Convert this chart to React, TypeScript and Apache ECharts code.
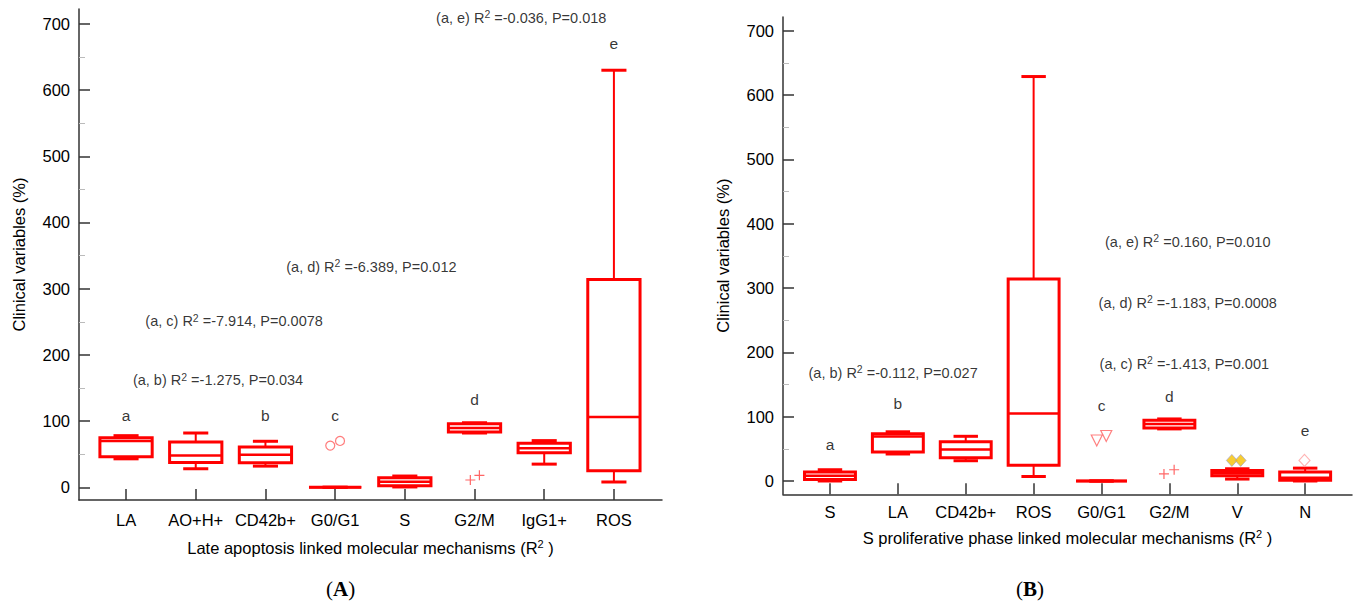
import React, { useEffect, useRef } from "react";
import * as echarts from "echarts";

// ---------- Data ----------
const leftCategories = ["LA", "AO+H+", "CD42b+", "G0/G1", "S", "G2/M", "IgG1+", "ROS"];
// [min, Q1, median, Q3, max]
const leftBoxes = [
  [43, 46, 70, 75, 78],
  [28, 37.5, 48, 68.5, 82],
  [32, 37, 49, 61, 69.5],
  [0, 0, 0, 0, 0],
  [0.5, 2.5, 8.5, 14.5, 17],
  [82, 83.5, 89.5, 96, 97.5],
  [35, 52, 59, 66.5, 70.5],
  [8, 25, 106, 314, 630],
];
const leftCircleOutliers = [[2.93, 63], [3.07, 70]];
const leftPlusOutliers = [[4.94, 11], [5.07, 18]];
const leftLetters = [[0, 109, "a"], [2, 109, "b"], [3, 109, "c"], [5, 132, "d"], [7, 670, "e"]];
const leftStats = [
  [1.32, 162, "(a, b)", "-1.275", "0.034"],
  [1.55, 251, "(a, c)", "-7.914", "0.0078"],
  [3.52, 333, "(a, d)", "-6.389", "0.012"],
  [5.67, 709, "(a, e)", "-0.036", "0.018"],
];

const rightCategories = ["S", "LA", "CD42b+", "ROS", "G0/G1", "G2/M", "V", "N"];
const rightBoxes = [
  [0, 2.5, 8, 14, 17.5],
  [42, 45, 69, 73.5, 76.5],
  [31.5, 36, 49, 61, 69.5],
  [7, 24.5, 105, 314, 629],
  [0, 0, 0, 0, 0],
  [81, 82.5, 88.5, 94.5, 96.5],
  [3, 8, 12, 16.5, 19],
  [0, 1, 5, 14, 20],
];
const rightTriangleOutliers = [[3.93, 63], [4.07, 70]];
const rightPlusOutliers = [[4.92, 11], [5.07, 17.5]];
const rightGoldOutliers = [[5.92, 32], [6.05, 32]];
const rightDiamondOutliers = [[6.99, 32]];
const rightLetters = [[0, 57.5, "a"], [1, 121, "b"], [4, 117, "c"], [5, 131, "d"], [7, 78, "e"]];
const rightStats = [
  [0.93, 168, "(a, b)", "-0.112", "0.027"],
  [5.27, 372, "(a, e)", "0.160", "0.010"],
  [5.27, 277, "(a, d)", "-1.183", "0.0008"],
  [5.22, 182, "(a, c)", "-1.413", "0.001"],
];

const yTicks = [0, 100, 200, 300, 400, 500, 600, 700];
const yMinorTicks = [50, 150, 250, 350, 450, 550, 650];
const xTicks = [0, 1, 2, 3, 4, 5, 6, 7];

const FONT = "'Liberation Sans', Arial, sans-serif";
const RED = "#ff0000";

function renderBox(params: any, api: any) {
  const x = api.value(0);
  const lo = api.value(1);
  const q1 = api.value(2);
  const med = api.value(3);
  const q3 = api.value(4);
  const hi = api.value(5);
  const bw = api.size([1, 0])[0];
  const half = bw * 0.375;
  const capHalf = bw * 0.18;
  const pLo = api.coord([x, lo]);
  const pQ1 = api.coord([x, q1]);
  const pMed = api.coord([x, med]);
  const pQ3 = api.coord([x, q3]);
  const pHi = api.coord([x, hi]);
  const cx = pMed[0];
  const children: any[] = [];
  children.push({
    type: "line",
    shape: { x1: cx, y1: pQ3[1], x2: cx, y2: pHi[1] },
    style: { stroke: RED, lineWidth: 2 },
  });
  children.push({
    type: "line",
    shape: { x1: cx, y1: pQ1[1], x2: cx, y2: pLo[1] },
    style: { stroke: RED, lineWidth: 2 },
  });
  children.push({
    type: "line",
    shape: { x1: cx - capHalf, y1: pHi[1], x2: cx + capHalf, y2: pHi[1] },
    style: { stroke: RED, lineWidth: 3 },
  });
  children.push({
    type: "line",
    shape: { x1: cx - capHalf, y1: pLo[1], x2: cx + capHalf, y2: pLo[1] },
    style: { stroke: RED, lineWidth: 3 },
  });
  children.push({
    type: "rect",
    shape: { x: cx - half, y: pQ3[1], width: half * 2, height: pQ1[1] - pQ3[1] },
    style: { stroke: RED, lineWidth: 3, fill: "none" },
  });
  children.push({
    type: "line",
    shape: { x1: cx - half, y1: pMed[1], x2: cx + half, y2: pMed[1] },
    style: { stroke: RED, lineWidth: 2.5 },
  });
  return { type: "group", children };
}

const statFormatter = (p: any) => {
  const d = p.data;
  return `{n|${d[2]} R}{s|2}{n| =${d[3]}, P=${d[4]}}`;
};
const statRich = {
  n: { fontSize: 14.5, fontFamily: FONT, color: "#000", lineHeight: 18 },
  s: { fontSize: 10.5, fontFamily: FONT, color: "#000", verticalAlign: "top", lineHeight: 18 },
};

function panelAxes(gi: number, cats: string[], xmin: number, xmax: number, ymin: number, ymax: number, xName: string, xNameGap: number, labelMargin: number) {
  const xAxis = {
    type: "value",
    gridIndex: gi,
    min: xmin,
    max: xmax,
    axisLine: { show: true, onZero: false, lineStyle: { color: "#333", width: 1.5 } },
    axisTick: { show: true, inside: true, length: 11, customValues: xTicks, lineStyle: { color: "#333", width: 1.5 } },
    axisLabel: {
      customValues: xTicks,
      formatter: (v: number) => cats[Math.round(v)],
      fontSize: 16.5,
      fontFamily: FONT,
      color: "#000",
      margin: labelMargin,
    },
    splitLine: { show: false },
    name: xName,
    nameLocation: "middle",
    nameGap: xNameGap,
    nameTextStyle: {
      rich: {
        n: { fontSize: 16.5, fontFamily: FONT, color: "#000", lineHeight: 20 },
        s: { fontSize: 11, fontFamily: FONT, color: "#000", verticalAlign: "top", lineHeight: 20 },
      },
    },
  };
  const yMain = {
    type: "value",
    gridIndex: gi,
    position: "left",
    min: ymin,
    max: ymax,
    axisLine: { show: true, onZero: false, lineStyle: { color: "#333", width: 1.5 } },
    axisTick: { show: true, inside: true, length: 11, customValues: yTicks, lineStyle: { color: "#333", width: 1.5 } },
    axisLabel: { customValues: yTicks, fontSize: 16.5, fontFamily: FONT, color: "#000", margin: 9 },
    splitLine: { show: false },
    name: "Clinical variables (%)",
    nameLocation: "middle",
    nameGap: 52,
    nameRotate: 90,
    nameTextStyle: { fontSize: 16.5, fontFamily: FONT, color: "#000" },
  };
  const yMinor = {
    type: "value",
    gridIndex: gi,
    position: "left",
    offset: 0,
    min: ymin,
    max: ymax,
    axisLine: { show: false, onZero: false },
    axisTick: { show: true, inside: true, length: 6, customValues: yMinorTicks, lineStyle: { color: "#bbb", width: 1 } },
    axisLabel: { show: false },
    splitLine: { show: false },
  };
  return { xAxis, yMain, yMinor };
}

function letterSeries(xi: number, yi: number, data: any[]) {
  return {
    type: "scatter",
    xAxisIndex: xi,
    yAxisIndex: yi,
    symbolSize: 0,
    silent: true,
    data,
    label: {
      show: true,
      position: "inside",
      formatter: (p: any) => p.data[2],
      fontSize: 15.5,
      fontFamily: FONT,
      color: "#000",
    },
  };
}

function statSeries(xi: number, yi: number, data: any[]) {
  return {
    type: "scatter",
    xAxisIndex: xi,
    yAxisIndex: yi,
    symbolSize: 0,
    silent: true,
    data,
    label: { show: true, position: "inside", formatter: statFormatter, rich: statRich },
  };
}

export default function App() {
  const ref = useRef<HTMLDivElement>(null);
  useEffect(() => {
    if (!ref.current) return;
    const chart = echarts.init(ref.current, undefined, { renderer: "svg" });
    const L = panelAxes(0, leftCategories, -0.675, 7.69, -19.2, 722.5,
      "{n|Late apoptosis linked molecular mechanisms (R}{s|2}{n| )}", 38, 11);
    const R = panelAxes(1, rightCategories, -0.692, 7.69, -20.7, 721.6,
      "{n|S proliferative phase linked molecular mechanisms (R}{s|2}{n| )}", 34, 9);

    const option: any = {
      animation: false,
      backgroundColor: "#fff",
      grid: [
        { left: 79, top: 9, width: 583, height: 491 },
        { left: 783, top: 17, width: 569, height: 477.3 },
      ],
      xAxis: [L.xAxis, R.xAxis],
      yAxis: [L.yMain, L.yMinor, R.yMain, R.yMinor],
      graphic: [
        {
          type: "text",
          left: 326,
          top: 578,
          style: {
            text: "{p|(}{b|A}{p|)}",
            rich: {
              p: { fontSize: 21, fontFamily: "'Liberation Serif', serif", fill: "#000" },
              b: { fontSize: 21, fontWeight: "bold", fontFamily: "'Liberation Serif', serif", fill: "#000" },
            },
          },
        },
        {
          type: "text",
          left: 1016,
          top: 578,
          style: {
            text: "{p|(}{b|B}{p|)}",
            rich: {
              p: { fontSize: 21, fontFamily: "'Liberation Serif', serif", fill: "#000" },
              b: { fontSize: 21, fontWeight: "bold", fontFamily: "'Liberation Serif', serif", fill: "#000" },
            },
          },
        },
      ],
      series: [
        {
          type: "custom",
          xAxisIndex: 0,
          yAxisIndex: 0,
          renderItem: renderBox,
          data: leftBoxes.map((b, i) => [i, ...b]),
          encode: { x: 0, y: [1, 2, 3, 4, 5] },
          silent: true,
        },
        {
          type: "scatter",
          xAxisIndex: 0,
          yAxisIndex: 0,
          symbol: "circle",
          symbolSize: 9,
          data: leftCircleOutliers,
          itemStyle: { color: "rgba(0,0,0,0)", borderColor: "#ff5a5a", borderWidth: 1.2 },
          silent: true,
        },
        {
          type: "scatter",
          xAxisIndex: 0,
          yAxisIndex: 0,
          symbol: "path://M0,5L10,5M5,0L5,10",
          symbolSize: 10,
          data: leftPlusOutliers,
          itemStyle: { color: "rgba(0,0,0,0)", borderColor: "#ff4040", borderWidth: 1.2 },
          silent: true,
        },
        letterSeries(0, 0, leftLetters),
        statSeries(0, 0, leftStats),
        {
          type: "custom",
          xAxisIndex: 1,
          yAxisIndex: 2,
          renderItem: renderBox,
          data: rightBoxes.map((b, i) => [i, ...b]),
          encode: { x: 0, y: [1, 2, 3, 4, 5] },
          silent: true,
        },
        {
          type: "scatter",
          xAxisIndex: 1,
          yAxisIndex: 2,
          symbol: "triangle",
          symbolRotate: 180,
          symbolSize: [11, 11],
          data: rightTriangleOutliers,
          itemStyle: { color: "rgba(0,0,0,0)", borderColor: "#ff6060", borderWidth: 1.2 },
          silent: true,
        },
        {
          type: "scatter",
          xAxisIndex: 1,
          yAxisIndex: 2,
          symbol: "path://M0,5L10,5M5,0L5,10",
          symbolSize: 10,
          data: rightPlusOutliers,
          itemStyle: { color: "rgba(0,0,0,0)", borderColor: "#ff4040", borderWidth: 1.2 },
          silent: true,
        },
        {
          type: "scatter",
          xAxisIndex: 1,
          yAxisIndex: 2,
          symbol: "diamond",
          symbolSize: [11, 12],
          data: rightGoldOutliers,
          itemStyle: { color: "#f5c000", borderColor: "#9a9ad0", borderWidth: 0.8 },
          silent: true,
        },
        {
          type: "scatter",
          xAxisIndex: 1,
          yAxisIndex: 2,
          symbol: "diamond",
          symbolSize: [11, 12],
          data: rightDiamondOutliers,
          itemStyle: { color: "rgba(0,0,0,0)", borderColor: "#ffa0a0", borderWidth: 1.2 },
          silent: true,
        },
        letterSeries(1, 2, rightLetters),
        statSeries(1, 2, rightStats),
      ],
    };
    chart.setOption(option);
    return () => chart.dispose();
  }, []);
  return (
    <div
      ref={ref}
      style={{ position: "fixed", left: 0, top: 0, width: 1355, height: 605, background: "#fff" }}
    />
  );
}
